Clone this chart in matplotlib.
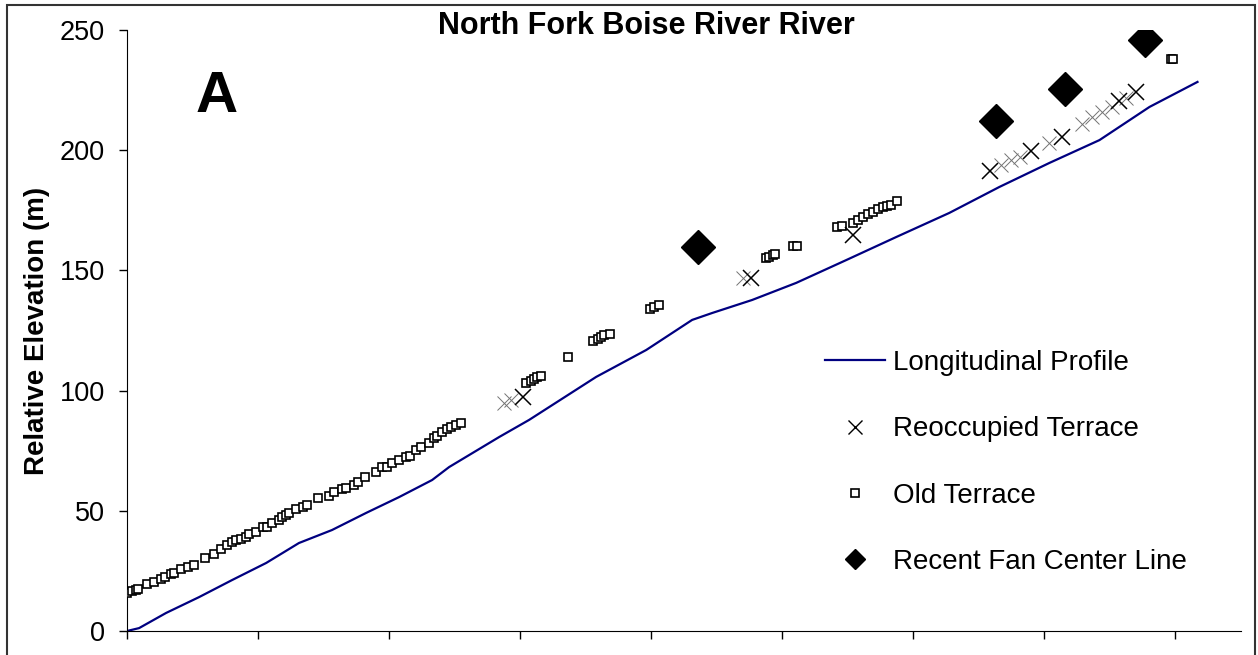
import matplotlib.pyplot as plt
from matplotlib.lines import Line2D
from matplotlib.patches import Rectangle

plt.rcParams['font.family'] = ['Liberation Sans', 'DejaVu Sans']

# longitudinal profile of the river
profile_x = [0.0, 0.46, 1.49, 2.75, 4.01, 5.31, 6.56, 7.82, 9.12, 10.38, 11.64, 12.29,
             14.20, 15.34, 17.90, 19.81, 21.56, 22.33, 23.85, 25.53, 27.44, 29.35,
             31.37, 33.28, 35.19, 37.10, 39.01, 40.84]
profile_y = [0.0, 1.2, 7.5, 14.1, 21.2, 28.3, 36.6, 42.0, 49.1, 55.7, 62.8, 68.2,
             80.7, 87.8, 105.7, 116.9, 129.4, 132.3, 137.7, 144.8, 154.3, 163.9,
             173.9, 184.7, 194.7, 204.2, 218.0, 228.4]

# old terrace points
old_x = [0.01, 0.19, 0.33, 0.42, 0.76, 1.03, 1.29, 1.45, 1.67, 1.79, 2.05, 2.33, 2.56,
         2.98, 3.32, 3.58, 3.82, 4.00, 4.15, 4.34, 4.53, 4.66, 4.91, 5.19, 5.34, 5.53,
         5.80, 5.92, 6.06, 6.18, 6.44, 6.72, 6.87, 7.29, 7.71, 7.90, 8.21, 8.35, 8.66,
         8.82, 9.08, 9.49, 9.73, 9.92, 10.11, 10.38, 10.65, 10.79, 11.02, 11.21, 11.53,
         11.72, 11.83, 12.02, 12.21, 12.35, 12.55, 12.74,
         15.22, 15.41, 15.53, 15.66, 15.79, 16.81, 17.76, 17.95, 18.08, 18.21, 18.44,
         19.95, 20.11, 20.28, 24.38, 24.50, 24.63, 24.73, 25.39, 25.58, 27.07, 27.28,
         27.68, 27.87, 28.06, 28.26, 28.45, 28.64, 28.83, 28.98, 29.15, 29.36,
         39.84, 39.90]
old_y = [15.7, 16.6, 17.1, 17.5, 19.6, 20.4, 21.6, 22.5, 23.7, 24.1, 25.8, 26.6, 27.5,
         30.4, 32.0, 34.1, 35.8, 37.0, 37.9, 38.3, 39.1, 40.3, 41.3, 43.3, 43.4, 45.0,
         46.2, 47.5, 48.3, 49.1, 50.7, 51.7, 52.4, 55.3, 56.2, 57.9, 59.1, 59.5, 60.7,
         62.1, 64.2, 66.3, 68.2, 68.2, 70.0, 71.1, 72.5, 72.8, 75.3, 76.5, 78.3,
         80.3, 81.1, 82.9, 84.0, 84.9, 85.7, 86.6,
         103.0, 104.1, 104.7, 105.5, 106.1, 114.1, 120.8, 121.5, 122.4, 123.1, 123.5,
         133.8, 134.7, 135.5, 155.0, 155.7, 156.4, 156.8, 160.1, 160.1, 167.9, 168.5,
         169.6, 171.0, 172.3, 173.3, 174.4, 175.4, 176.3, 176.8, 177.2, 178.9,
         237.8, 237.8]

# reoccupied terrace points
reoc_x = [15.09, 23.81, 27.71, 32.91, 34.47, 35.68, 37.86, 38.50]
reoc_y = [97.2, 146.7, 164.7, 191.5, 199.8, 205.4, 220.6, 224.3]
# overlapping reoccupied points that show up only as faint fragments
reoc_faint_x = [14.39, 14.66, 23.51, 33.36, 33.74, 34.05, 35.19, 36.45, 36.83, 37.21, 37.56, 38.13]
reoc_faint_y = [94.8, 96.1, 146.8, 193.8, 195.9, 197.2, 203.0, 210.9, 213.8, 215.9, 218.0, 221.8]

# recent fan center line
fan_x = [21.77, 33.16, 35.79, 38.85]
fan_y = [159.9, 212.3, 225.5, 245.7]

W, H = 1258, 655
fig = plt.figure(figsize=(W / 100, H / 100), dpi=100)
ax = fig.add_axes([127 / W, (H - 631) / H, (1241 - 127) / W, (631 - 30) / H])

ax.plot(profile_x, profile_y, color='#000080', lw=1.6, zorder=2)
ax.plot(old_x, old_y, 's', ms=5.2, mfc='white', mec='black', mew=1.2, zorder=3)
ax.plot(reoc_faint_x, reoc_faint_y, 'x', ms=10, mec='0.45', mew=0.7, ls='none', zorder=3)
ax.plot(reoc_x, reoc_y, 'x', ms=11, mec='black', mew=1.1, ls='none', zorder=4)
ax.plot(fan_x, fan_y, 'D', ms=17, color='black', zorder=4)

ax.set_xlim(0, 42.5)
ax.set_ylim(0, 250)
ax.set_xticks(range(0, 45, 5))
ax.set_xticklabels([])
ax.set_yticks(range(0, 251, 50))
ax.tick_params(axis='both', direction='out', length=6, width=1, labelsize=19.5, pad=10)
ax.spines['top'].set_visible(False)
ax.spines['right'].set_visible(False)
ax.set_ylabel('Relative Elevation (m)', fontsize=20, fontweight='bold', labelpad=7)

fig.text(646 / W, 1 - 34 / H, 'North Fork Boise River River', ha='center', va='baseline',
         fontsize=22, fontweight='bold')
fig.text(196 / W, 1 - 112 / H, 'A', ha='left', va='baseline', fontsize=42, fontweight='bold')

handles = [
    Line2D([], [], color='#000080', lw=1.6),
    Line2D([], [], marker='x', ls='none', color='black', ms=10, mew=1.0),
    Line2D([], [], marker='s', ls='none', mfc='white', mec='black', ms=5.2, mew=1.2),
    Line2D([], [], marker='D', ls='none', color='black', ms=10.5),
]
labels = ['Longitudinal Profile', 'Reoccupied Terrace', 'Old Terrace', 'Recent Fan Center Line']
fig.legend(handles, labels, loc='upper left', bbox_to_anchor=(825 / W, 1 - 350 / H),
           frameon=False, fontsize=20, handlelength=2.15, handletextpad=0.3,
           labelspacing=1.45, borderpad=0, borderaxespad=0)

fig.add_artist(Rectangle((7 / W, -0.02), (1255 - 7) / W, 1 - 5 / H + 0.02,
                         transform=fig.transFigure, fill=False, lw=1.5, ec='0.2'))

fig.savefig('out.png', dpi=100)
